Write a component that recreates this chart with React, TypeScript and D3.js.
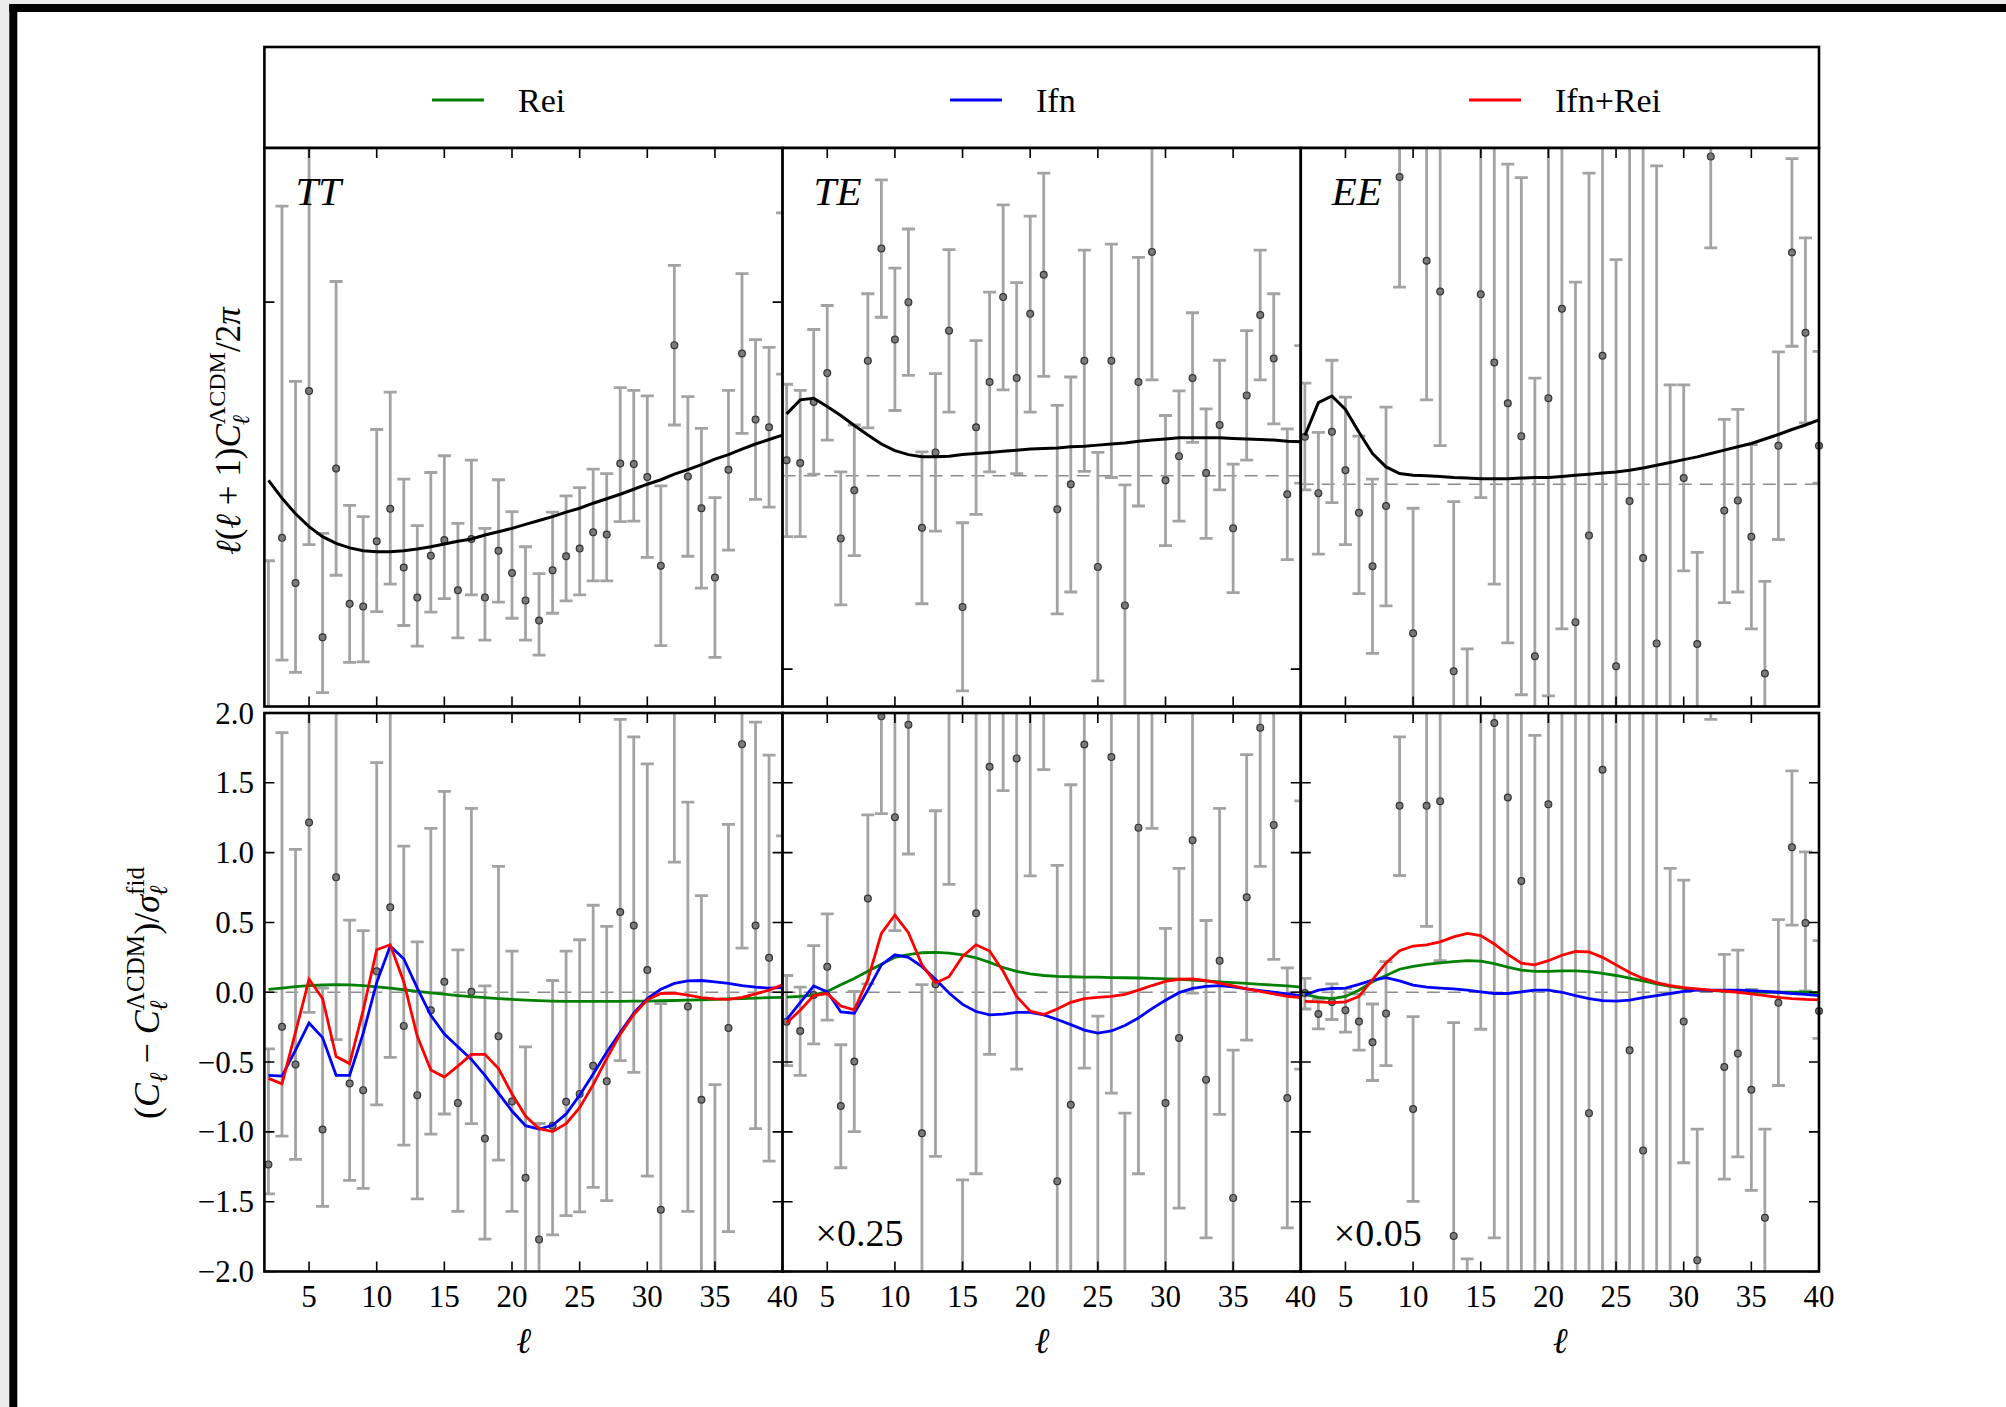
import React from 'react';
import * as d3 from 'd3';

// multipoles shown in every panel
const ell = d3.range(2, 41);

// ---------- upper row: band powers (panel units, 0 = bottom edge, 100 = top edge) ----------
// the last TT / TE band powers sit under the shared panel edge and have no visible marker
const ttPt = [-3.1, 30.2, 22.1, 56.5, 12.4, 42.6, 18.4, 17.9, 29.6, 35.4, 24.9, 19.5, 27.0, 29.8, 20.8, 30.0, 19.5, 27.9, 23.9, 19.0, 15.4, 24.4, 26.9, 28.3, 31.2, 30.8, 43.5, 43.4, 41.1, 25.2, 64.7, 41.2, 35.5, 23.1, 42.4, 63.2, 51.4, 50.0, null];
const ttHi = [26.1, 89.6, 58.2, 104.7, 31.0, 76.1, 36.0, 34.0, 49.6, 56.3, 40.7, 32.4, 41.9, 44.9, 32.8, 44.1, 31.9, 40.6, 34.9, 28.6, 23.8, 34.8, 37.7, 39.2, 42.5, 41.7, 57.1, 56.6, 55.6, 39.5, 79.0, 55.5, 49.8, 37.4, 56.6, 77.5, 65.7, 64.3, 88.4];
const ttLo = [-10.6, 8.3, 6.1, 29.0, 2.5, 23.5, 7.9, 8.0, 17.0, 21.9, 14.5, 10.8, 16.9, 19.3, 12.3, 20.0, 11.9, 18.7, 15.8, 11.9, 9.2, 16.7, 18.9, 20.0, 22.5, 22.5, 33.1, 33.2, 26.7, 10.9, 50.4, 26.9, 21.2, 8.8, 28.0, 48.9, 37.1, 35.7, 59.5];
const ttTheory = [40.5, 37.3, 34.5, 32.2, 30.4, 29.2, 28.4, 27.9, 27.7, 27.7, 27.9, 28.2, 28.6, 29.1, 29.6, 30.0, 30.7, 31.3, 31.9, 32.6, 33.3, 34.0, 34.8, 35.5, 36.4, 37.2, 38.0, 38.9, 39.8, 40.6, 41.6, 42.4, 43.3, 44.3, 45.1, 46.1, 47.0, 47.8, 48.6];

const tePt = [44.1, 43.6, 54.5, 59.7, 30.1, 38.7, 61.9, 82.0, 65.7, 72.4, 32.0, 45.5, 67.3, 17.8, 50.0, 58.1, 73.3, 58.8, 70.3, 77.3, 35.3, 39.8, 61.9, 25.0, 61.9, 18.1, 58.1, 81.4, 40.5, 44.8, 58.8, 41.8, 50.4, 31.9, 55.7, 70.1, 62.3, 38.0, null];
const teHi = [57.7, 56.6, 67.5, 71.8, 42.0, 50.4, 73.9, 94.3, 78.5, 85.5, 45.6, 59.6, 81.8, 32.9, 65.5, 74.2, 89.8, 75.9, 87.8, 95.5, 53.9, 59.0, 81.7, 45.5, 82.8, 39.7, 80.4, 104.4, 52.1, 56.5, 70.5, 53.3, 62.0, 43.4, 67.3, 81.7, 73.9, 49.7, 64.6];
const teLo = [30.4, 30.4, 41.6, 47.7, 18.2, 27.0, 49.9, 69.7, 53.0, 59.3, 18.4, 31.4, 52.7, 2.8, 34.4, 42.0, 56.7, 41.7, 52.7, 59.1, 16.6, 20.5, 42.1, 4.6, 41.0, -3.5, 35.9, 58.5, 28.8, 33.2, 47.3, 30.1, 38.8, 20.4, 44.1, 58.5, 50.6, 26.3, 40.0];
const teTheory = [52.4, 54.9, 55.2, 53.7, 52.1, 50.3, 48.6, 47.0, 45.8, 45.1, 44.7, 44.7, 44.8, 45.1, 45.3, 45.5, 45.7, 45.9, 46.1, 46.2, 46.3, 46.5, 46.6, 46.8, 47.0, 47.2, 47.5, 47.7, 47.9, 48.1, 48.1, 48.1, 48.1, 48.0, 47.9, 47.8, 47.7, 47.5, 47.4];
const TE_ZERO = 41.3;

const eePt = [48.3, 38.2, 49.2, 42.3, 34.7, 25.1, 35.9, 94.8, 13.1, 79.8, 74.3, 6.3, -11.2, 73.8, 61.6, 54.3, 48.4, 9.0, 55.2, 71.2, 15.1, 30.6, 62.8, 7.2, 36.8, 26.6, 11.3, -15, 40.9, 11.2, 98.5, 35.1, 36.9, 30.4, 5.9, 46.7, 81.3, 66.9, 46.7];
const eeHi = [57.9, 49.1, 62.0, 55.4, 48.4, 40.7, 53.6, 111, 35.5, 108, 104.7, 36.7, 10.3, 110, 105, 97.1, 94.7, 58.8, 108, 115, 76.0, 95.5, 115, 80.0, 110, 108, 96.8, 57.6, 57.6, 27.6, 115, 51.4, 53.2, 46.9, 22.4, 63.5, 98.1, 83.9, 63.6];
const eeLo = [38.8, 27.3, 36.5, 29.0, 20.2, 9.5, 18.0, 75.1, -15, 54.9, 46.7, -20, -30, 37.4, 21.9, 11.4, 2.1, -20, 1.9, 13.9, -25, -10, -5, -30, -15, -20, -30, -50, 24.3, -8, 82.1, 18.6, 20.5, 13.9, -10, 29.9, 64.5, 50.8, 40.0];
const eeTheory = [48.5, 54.4, 55.6, 53.2, 49.1, 45.3, 42.9, 41.7, 41.4, 41.3, 41.2, 41.0, 40.9, 40.8, 40.8, 40.8, 40.9, 41.0, 41.0, 41.2, 41.4, 41.6, 41.8, 42.0, 42.3, 42.7, 43.2, 43.7, 44.2, 44.7, 45.3, 45.9, 46.5, 47.1, 47.9, 48.7, 49.6, 50.4, 51.3];
const EE_ZERO = 39.8;

// ---------- lower row: residuals in units of sigma ----------
const ttDev = [-1.233, -0.247, -0.517, 1.215, -0.983, 0.823, -0.653, -0.701, 0.15, 0.608, -0.241, -0.737, -0.129, 0.075, -0.794, 0.003, -1.047, -0.316, -0.782, -1.329, -1.77, -0.956, -0.785, -0.728, -0.526, -0.638, 0.574, 0.478, 0.159, -1.558, 2.37, -0.102, -0.77, -2.18, -0.256, 1.777, 0.478, 0.247, null];
const ttDevLo = [-1.444, -1.03, -1.197, -0.144, -1.534, -0.34, -1.347, -1.404, -0.806, -0.466, -1.095, -1.48, -1.016, -0.872, -1.57, -0.941, -1.768, -1.203, -1.57, -2.03, -2.38, -1.738, -1.6, -1.573, -1.398, -1.492, -0.49, -0.574, -1.317, -3.0, 0.932, -1.57, -2.17, -3.64, -1.714, 0.316, -0.977, -1.209, 1.12];
const ttDevHi = [-0.406, 1.859, 1.023, 3.6, 0.03, 2.9, 0.517, 0.442, 1.645, 2.26, 1.047, 0.361, 1.173, 1.438, 0.304, 1.317, 0.045, 0.902, 0.295, -0.391, -0.94, 0.084, 0.295, 0.376, 0.623, 0.472, 1.955, 1.829, 1.636, -0.081, 3.8, 1.362, 0.692, -0.662, 1.203, 3.25, 1.934, 1.699, 4.0];

const teDev = [-0.211, -0.277, -0.02, 0.183, -0.815, -0.496, 0.671, 1.976, 1.254, 1.916, -1.01, 0.057, 2.2, -3.0, 0.565, 1.615, 3.6, 1.675, 3.05, 3.84, -1.353, -0.806, 1.774, -2.8, 1.684, -3.37, 1.179, 3.69, -0.794, -0.328, 1.089, -0.626, 0.226, -1.473, 0.68, 1.895, 1.197, -0.758, null];
const teDevLo = [-0.526, -0.596, -0.37, -0.2, -1.257, -0.998, 0.06, 1.28, 0.442, 0.99, -2.08, -1.176, 0.773, -4.66, -1.3, -0.445, 1.444, -0.55, 0.833, 1.594, -3.65, -3.14, -0.544, -5.4, -0.722, -5.8, -1.3, 1.173, -2.05, -1.546, -0.006, -1.759, -0.875, -2.53, -0.343, 0.902, 0.235, -1.687, -0.55];
const teDevHi = [0.12, 0.036, 0.334, 0.562, -0.376, 0.006, 1.27, 2.66, 2.06, 2.83, 0.054, 1.3, 3.63, -1.344, 2.43, 3.68, 5.8, 3.92, 5.3, 6.1, 0.908, 1.486, 4.08, -0.171, 4.1, -0.866, 3.64, 6.2, 0.457, 0.887, 2.2, 0.514, 1.317, -0.415, 1.702, 2.88, 2.15, 0.174, 1.37];

const eeDev = [-0.006, -0.156, -0.069, -0.129, -0.21, -0.358, -0.153, 1.335, -0.836, 1.335, 1.368, -1.745, -2.8, 2.54, 1.928, 1.395, 0.797, -2.6, 1.347, 2.6, -2.4, -0.866, 1.594, -2.7, -0.415, -1.134, -2.3, -2.6, -0.21, -1.919, 3.0, -0.535, -0.439, -0.698, -1.615, -0.075, 1.038, 0.496, -0.135];
const eeDevLo = [-0.12, -0.262, -0.195, -0.286, -0.415, -0.632, -0.526, 0.836, -1.498, 0.472, 0.226, -3.3, -4.5, -0.265, -1.759, -3.06, -2.8, -6.0, -2.4, -2.2, -7.0, -4.5, -3.0, -7.0, -4.0, -4.5, -5.5, -5.5, -1.221, -3.0, 1.955, -1.338, -1.179, -1.419, -2.5, -0.668, 0.481, 0.01, -0.33];
const eeDevHi = [0.1, -0.05, 0.06, 0.026, -0.014, -0.084, 0.22, 1.829, -0.174, 2.2, 2.5, -0.217, -1.91, 4.5, 5.0, 5.8, 4.4, 1.84, 5.0, 6.0, 2.2, 3.0, 6.0, 2.3, 4.0, 3.5, 2.6, 0.887, 0.803, -0.98, 4.0, 0.271, 0.301, 0.02, -0.98, 0.52, 1.585, 1.006, 0.37];

// model residuals: reionization (Rei), inflation feature (Ifn), both (Ifn+Rei)
const reiTT = [0.021, 0.03, 0.04, 0.047, 0.052, 0.054, 0.053, 0.048, 0.038, 0.03, 0.018, 0.006, -0.004, -0.014, -0.024, -0.032, -0.039, -0.046, -0.051, -0.056, -0.06, -0.063, -0.065, -0.066, -0.066, -0.066, -0.065, -0.064, -0.063, -0.061, -0.059, -0.057, -0.054, -0.051, -0.048, -0.045, -0.042, -0.039, -0.036];
const ifnTT = [-0.595, -0.6, -0.415, -0.22, -0.325, -0.595, -0.595, -0.295, 0.069, 0.331, 0.24, 0.03, -0.165, -0.3, -0.39, -0.481, -0.595, -0.722, -0.851, -0.956, -0.98, -0.953, -0.872, -0.737, -0.586, -0.43, -0.286, -0.15, -0.045, 0.021, 0.063, 0.081, 0.084, 0.075, 0.063, 0.048, 0.036, 0.03, 0.033];
const bothTT = [-0.617, -0.656, -0.286, 0.093, -0.045, -0.46, -0.511, -0.13, 0.304, 0.34, 0.075, -0.316, -0.556, -0.607, -0.529, -0.445, -0.445, -0.547, -0.728, -0.887, -0.977, -0.998, -0.941, -0.827, -0.662, -0.475, -0.3, -0.159, -0.054, -0.009, -0.006, -0.021, -0.039, -0.048, -0.051, -0.036, -0.012, 0.015, 0.054];

const reiTE = [-0.035, -0.03, -0.02, 0.006, 0.054, 0.099, 0.15, 0.2, 0.25, 0.27, 0.283, 0.286, 0.28, 0.268, 0.247, 0.214, 0.177, 0.15, 0.132, 0.12, 0.114, 0.111, 0.108, 0.108, 0.105, 0.104, 0.102, 0.099, 0.096, 0.093, 0.087, 0.081, 0.075, 0.069, 0.063, 0.057, 0.051, 0.045, 0.036];
const ifnTE = [-0.195, -0.075, 0.045, 0.003, -0.141, -0.15, 0.015, 0.196, 0.268, 0.25, 0.183, 0.093, -0.006, -0.087, -0.138, -0.162, -0.156, -0.144, -0.144, -0.162, -0.195, -0.232, -0.271, -0.292, -0.277, -0.238, -0.184, -0.117, -0.057, -0.003, 0.027, 0.042, 0.048, 0.039, 0.024, 0.012, 0.0, -0.012, -0.024];
const bothTE = [-0.22, -0.129, -0.024, -0.009, -0.099, -0.126, 0.09, 0.421, 0.553, 0.427, 0.196, 0.066, 0.111, 0.256, 0.34, 0.295, 0.15, -0.03, -0.135, -0.159, -0.12, -0.072, -0.045, -0.036, -0.03, -0.015, 0.015, 0.048, 0.078, 0.093, 0.096, 0.084, 0.066, 0.045, 0.024, 0.006, -0.012, -0.03, -0.039];

const reiEE = [-0.015, -0.036, -0.045, -0.03, 0.015, 0.075, 0.12, 0.165, 0.186, 0.2, 0.21, 0.219, 0.226, 0.223, 0.205, 0.18, 0.159, 0.15, 0.15, 0.153, 0.153, 0.147, 0.135, 0.12, 0.102, 0.081, 0.06, 0.042, 0.027, 0.018, 0.012, 0.009, 0.006, 0.003, 0.0, 0.0, 0.0, 0.0, -0.003];
const ifnEE = [-0.02, 0.015, 0.027, 0.03, 0.057, 0.087, 0.105, 0.081, 0.051, 0.036, 0.03, 0.024, 0.015, 0.003, -0.009, -0.009, 0.003, 0.015, 0.015, 0.0, -0.024, -0.045, -0.06, -0.063, -0.057, -0.039, -0.024, -0.009, 0.006, 0.015, 0.015, 0.015, 0.015, 0.012, 0.006, 0.0, -0.009, -0.015, -0.024];
const bothEE = [-0.066, -0.069, -0.075, -0.069, -0.03, 0.09, 0.21, 0.298, 0.331, 0.34, 0.361, 0.397, 0.421, 0.406, 0.346, 0.271, 0.208, 0.196, 0.226, 0.265, 0.292, 0.289, 0.25, 0.196, 0.141, 0.099, 0.069, 0.048, 0.033, 0.024, 0.015, 0.009, 0.0, -0.012, -0.024, -0.036, -0.045, -0.051, -0.054];

// axis ticks
const ellTicks = [5, 10, 15, 20, 25, 30, 35, 40];
const devTicks = [-2, -1.5, -1, -0.5, 0, 0.5, 1, 1.5, 2];
const devTickLabels = ['\u22122.0', '\u22121.5', '\u22121.0', '\u22120.5', '0.0', '0.5', '1.0', '1.5', '2.0'];

const seriesNames = ['Rei', 'Ifn', 'Ifn+Rei'];
const seriesColors = ['#008000', '#0000ff', '#ff0000'];

const panels = [
  { key: 'TT', pt: ttPt, lo: ttLo, hi: ttHi, th: ttTheory, zero: null as number | null, upTicks: [72.4],
    dev: ttDev, devLo: ttDevLo, devHi: ttDevHi, models: [reiTT, ifnTT, bothTT], scale: null as string | null },
  { key: 'TE', pt: tePt, lo: teLo, hi: teHi, th: teTheory, zero: TE_ZERO, upTicks: [6.7],
    dev: teDev, devLo: teDevLo, devHi: teDevHi, models: [reiTE, ifnTE, bothTE], scale: '\u00d70.25' },
  { key: 'EE', pt: eePt, lo: eeLo, hi: eeHi, th: eeTheory, zero: EE_ZERO, upTicks: [] as number[],
    dev: eeDev, devLo: eeDevLo, devHi: eeDevHi, models: [reiEE, ifnEE, bothEE], scale: '\u00d70.05' },
];

// layout
const W = 2006, H = 1407;
const LEFT = 264.4, PW = 518.2;
const LEG_TOP = 47;
const UP_TOP = 148, UP_BOT = 706.5;
const LO_TOP = 713, LO_BOT = 1271.5;
const FONT = '"Liberation Serif", "DejaVu Serif", "Noto Serif", serif';
const BAR = '#a3a3a3';
const TICK = 10;

function ErrorBars({ x, y, lo, hi, clip }: any) {
  const cap = 6.5;
  const d = ell.map((l, i) => {
    const xx = x(l), a = y(hi[i]), b = y(lo[i]);
    return `M${xx},${a}V${b}M${xx - cap},${a}H${xx + cap}M${xx - cap},${b}H${xx + cap}`;
  }).join('');
  return <path d={d} stroke={BAR} strokeWidth={2.8} fill="none" clipPath={clip} />;
}

function Markers({ x, y, pt, clip }: any) {
  return (
    <g clipPath={clip}>
      {ell.map((l, i) => (pt[i] === null ? null : (
        <circle key={l} cx={x(l)} cy={y(pt[i])} r={3.4} fill="#7a7a7a" stroke="#333" strokeWidth={1.2} />
      )))}
    </g>
  );
}

function Frame({ x0, y0, y1, xScale, yScale, yTicks }: any) {
  const x1 = x0 + PW;
  let d = '';
  ellTicks.forEach((t) => {
    const xx = xScale(t);
    d += `M${xx},${y1}V${y1 - TICK}M${xx},${y0}V${y0 + TICK}`;
  });
  yTicks.forEach((t: number) => {
    const yy = yScale(t);
    d += `M${x0},${yy}H${x0 + TICK}M${x1},${yy}H${x1 - TICK}`;
  });
  return (
    <g>
      <path d={d} stroke="#000" strokeWidth={1.6} fill="none" />
      <rect x={x0} y={y0} width={PW} height={y1 - y0} fill="none" stroke="#000" strokeWidth={2.6} />
    </g>
  );
}

export default function App() {
  const yUp = d3.scaleLinear().domain([0, 100]).range([UP_BOT, UP_TOP]);
  const yDn = d3.scaleLinear().domain([-2, 2]).range([LO_BOT, LO_TOP]);
  const xScales = panels.map((_, i) =>
    d3.scaleLinear().domain([1.7, 40]).range([LEFT + i * PW, LEFT + (i + 1) * PW]));

  const row = (which: 'up' | 'dn') => panels.map((p, i) => {
    const x0 = LEFT + i * PW;
    const x = xScales[i];
    const up = which === 'up';
    const y = up ? yUp : yDn;
    const y0 = up ? UP_TOP : LO_TOP;
    const y1 = up ? UP_BOT : LO_BOT;
    const line = d3.line<number>().x((_, j) => x(ell[j])).y((v) => y(v));
    const zero = up ? p.zero : 0;
    const clip = `url(#${which}-${p.key})`;
    const clipM = `url(#${which}m-${p.key})`;
    return (
      <g key={which + p.key}>
        <rect x={x0} y={y0} width={PW} height={y1 - y0} fill="#fff" />
        {zero !== null && (
          <line x1={x0} x2={x0 + PW} y1={y(zero)} y2={y(zero)}
            stroke="#8c8c8c" strokeWidth={1.5} strokeDasharray="13 8" />
        )}
        <ErrorBars x={x} y={y} lo={up ? p.lo : p.devLo} hi={up ? p.hi : p.devHi} clip={clip} />
        <Markers x={x} y={y} pt={up ? p.pt : p.dev} clip={clipM} />
        <g clipPath={clip}>
          {up
            ? <path d={line(p.th) || ''} fill="none" stroke="#000" strokeWidth={3} />
            : p.models.map((m, k) => (
              <path key={k} d={line(m) || ''} fill="none" stroke={seriesColors[k]} strokeWidth={2.8} />
            ))}
        </g>
        <Frame x0={x0} y0={y0} y1={y1} xScale={x} yScale={y} yTicks={up ? p.upTicks : devTicks} />
        {up && <text x={x0 + 31} y={205} fontSize={41} fontStyle="italic">{p.key}</text>}
        {!up && p.scale && <text x={x0 + 33} y={1246} fontSize={38}>{p.scale}</text>}
      </g>
    );
  });

  return (
    <svg width={W} height={H} viewBox={`0 0 ${W} ${H}`}
      style={{ position: 'absolute', left: 0, top: 0, background: '#fff', fontFamily: FONT }}
      fontFamily={FONT}>
      <rect x={0} y={0} width={W} height={H} fill="#fff" />
      {/* outer window edge */}
      <rect x={0} y={0} width={W} height={4} fill="#ebebeb" />
      <rect x={0} y={0} width={9.3} height={H} fill="#ebebeb" />
      <rect x={9.3} y={4} width={W - 9.3} height={8} fill="#000" />
      <rect x={9.3} y={4} width={8} height={H - 4} fill="#000" />

      <defs>
        {panels.map((p, i) => (
          <React.Fragment key={p.key}>
            <clipPath id={`up-${p.key}`}>
              <rect x={LEFT + i * PW} y={UP_TOP} width={PW} height={UP_BOT - UP_TOP} />
            </clipPath>
            <clipPath id={`dn-${p.key}`}>
              <rect x={LEFT + i * PW} y={LO_TOP} width={PW} height={LO_BOT - LO_TOP} />
            </clipPath>
            <clipPath id={`upm-${p.key}`}>
              <rect x={LEFT + i * PW} y={UP_TOP} width={PW + 6} height={UP_BOT - UP_TOP} />
            </clipPath>
            <clipPath id={`dnm-${p.key}`}>
              <rect x={LEFT + i * PW} y={LO_TOP} width={PW + 6} height={LO_BOT - LO_TOP} />
            </clipPath>
          </React.Fragment>
        ))}
      </defs>

      {/* legend */}
      <rect x={LEFT} y={LEG_TOP} width={3 * PW} height={UP_TOP - LEG_TOP} fill="#fff" stroke="#000" strokeWidth={2.6} />
      {seriesNames.map((name, i) => {
        const lx = [432, 950, 1469][i];
        return (
          <g key={name}>
            <line x1={lx} x2={lx + 52} y1={100} y2={100} stroke={seriesColors[i]} strokeWidth={3} />
            <text x={lx + 86} y={112} fontSize={34}>{name}</text>
          </g>
        );
      })}

      {row('up')}
      {row('dn')}

      {/* x tick labels and axis labels */}
      {panels.map((p, i) => (
        <g key={'xl' + p.key}>
          {ellTicks.map((t) => (
            <text key={t} x={xScales[i](t)} y={1307} fontSize={31} textAnchor="middle">{t}</text>
          ))}
          <text x={LEFT + i * PW + PW / 2} y={1353} fontSize={36} textAnchor="middle" fontStyle="italic">ℓ</text>
        </g>
      ))}

      {/* y tick labels of the residual panel */}
      {devTicks.map((t, i) => (
        <text key={t} x={254} y={yDn(t) + 10.5} fontSize={31} textAnchor="end">{devTickLabels[i]}</text>
      ))}

      {/* y axis titles */}
      <text transform="translate(240,431) rotate(-90)" fontSize={35} textAnchor="middle">
        <tspan fontStyle="italic">ℓ</tspan>
        <tspan>(</tspan>
        <tspan fontStyle="italic">ℓ</tspan>
        <tspan> + 1)</tspan>
        <tspan fontStyle="italic">C</tspan>
        <tspan fontSize={24} dy={-15}>ΛCDM</tspan>
        <tspan fontSize={24} fontStyle="italic" dx={-73} dy={24}>ℓ</tspan>
        <tspan dx={63} dy={-9}>/2</tspan>
        <tspan fontStyle="italic">π</tspan>
      </text>

      <text transform="translate(159,993) rotate(-90)" fontSize={36} textAnchor="middle">
        <tspan>(</tspan>
        <tspan fontStyle="italic">C</tspan>
        <tspan fontSize={25} fontStyle="italic" dy={8}>ℓ</tspan>
        <tspan dy={-8}> − </tspan>
        <tspan fontStyle="italic">C</tspan>
        <tspan fontSize={25} dy={-15}>ΛCDM</tspan>
        <tspan fontSize={25} fontStyle="italic" dx={-76} dy={23}>ℓ</tspan>
        <tspan dx={66} dy={-8}>)/</tspan>
        <tspan fontStyle="italic">σ</tspan>
        <tspan fontSize={25} dy={-15}>fid</tspan>
        <tspan fontSize={25} fontStyle="italic" dx={-29} dy={23}>ℓ</tspan>
      </text>
    </svg>
  );
}
